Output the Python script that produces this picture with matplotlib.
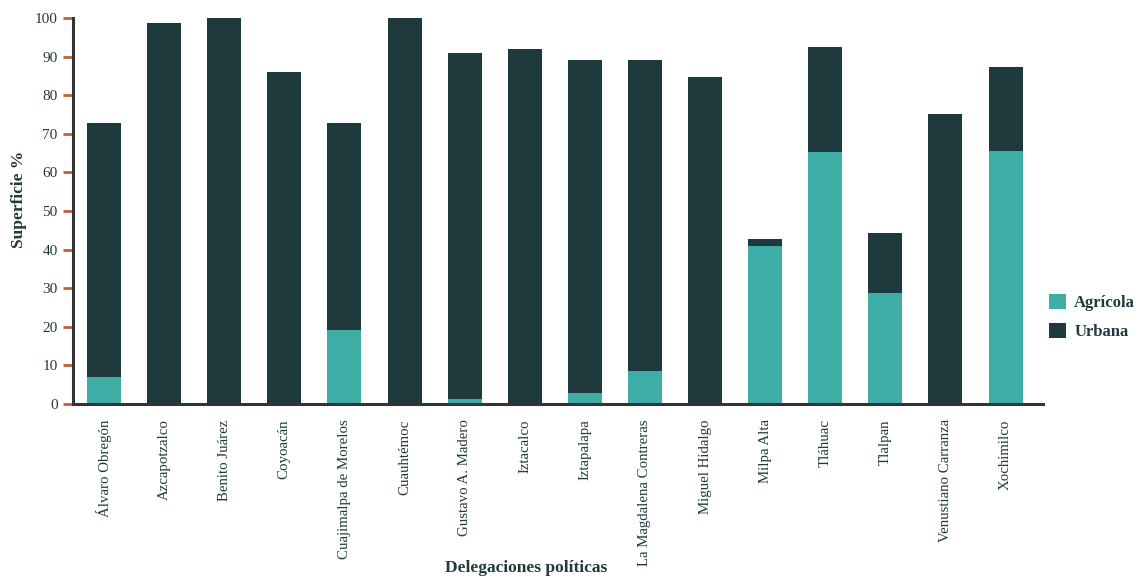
import matplotlib
matplotlib.use('Agg')
import matplotlib.pyplot as plt
import numpy as np

delegaciones = ['Álvaro Obregón', 'Azcapotzalco', 'Benito Juárez', 'Coyoacán',
                'Cuajimalpa de Morelos', 'Cuauhtémoc', 'Gustavo A. Madero', 'Iztacalco',
                'Iztapalapa', 'La Magdalena Contreras', 'Miguel Hidalgo', 'Milpa Alta',
                'Tláhuac', 'Tlalpan', 'Venustiano Carranza', 'Xochimilco']
agricola = [7.0, 0, 0, 0, 19.2, 0, 1.3, 0, 2.8, 8.5, 0, 40.9, 65.3, 28.8, 0, 65.5]
urbana = [65.8, 98.7, 100.0, 86.0, 53.6, 100.0, 89.6, 92.0, 86.3, 80.6, 84.7, 1.8, 27.2, 15.5, 75.1, 21.8]
yticks = [0, 10, 20, 30, 40, 50, 60, 70, 80, 90, 100]

c_agri = '#3dada5'
c_urb = '#1f3a3d'
c_text = '#1f3a3d'
c_tick = '#c0603a'

plt.rcParams['font.family'] = ['Liberation Serif', 'DejaVu Serif']

fig = plt.figure(figsize=(11.46, 5.81), dpi=100)
ax = fig.add_axes([0.0637, 0.3046, 0.8463, 0.6644])

x = np.arange(len(delegaciones))
ax.bar(x, agricola, width=0.566, color=c_agri, label='Agrícola')
ax.bar(x, urbana, width=0.566, bottom=agricola, color=c_urb, label='Urbana')

ax.set_xlim(-0.516, 15.62)
ax.set_ylim(0, 100)
ax.set_yticks(yticks)
ax.set_xticks(x)
ax.set_xticklabels(delegaciones, rotation=90, fontsize=10.7, color=c_text)
ax.tick_params(axis='x', length=0, pad=11)
ax.tick_params(axis='y', length=7, width=2, color=c_tick, labelsize=11, labelcolor=c_text, pad=4)

for s in ['top', 'right']:
    ax.spines[s].set_visible(False)
for s in ['left', 'bottom']:
    ax.spines[s].set_color('#333338')
    ax.spines[s].set_linewidth(2.2)

ax.set_ylabel('Superficie %', fontsize=12.5, fontweight='bold', color=c_text)
ax.yaxis.set_label_coords(-0.047, 0.53)
ax.set_xlabel('Delegaciones políticas', fontsize=12.5, fontweight='bold', color=c_text)
ax.xaxis.set_label_coords(0.467, -0.405)

ax.legend(loc='center left', bbox_to_anchor=(0.991, 0.225), frameon=False,
          prop={'weight': 'bold', 'size': 12},
          handlelength=1.0, handleheight=1.0, handletextpad=0.5,
          labelspacing=0.7, labelcolor=c_text)

fig.savefig('out.png', dpi=100)
